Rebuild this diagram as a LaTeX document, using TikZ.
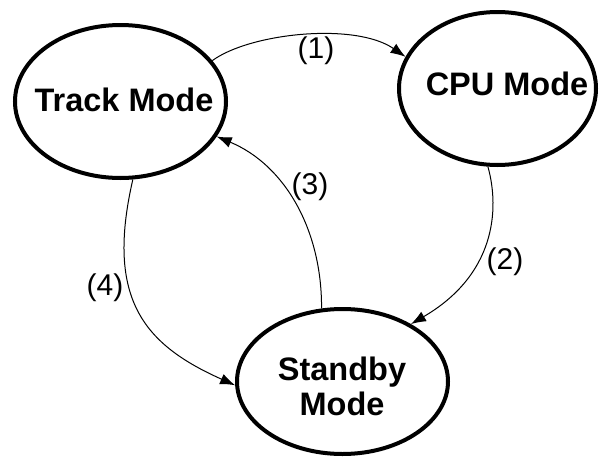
\documentclass[tikz,border=0pt]{standalone}
\usepackage{fontspec}
\setmainfont{Liberation Sans}
\usetikzlibrary{shapes.geometric,arrows.meta}
\begin{document}
\begin{tikzpicture}[x=1pt,y=-1pt,
  state/.style={ellipse, draw, line width=4pt, inner sep=0pt},
  title/.style={font=\fontsize{32.5}{35}\selectfont\bfseries, align=center, inner sep=0pt},
  lbl/.style={font=\fontsize{30}{32}\selectfont, inner sep=0pt},
  conn/.style={line width=1pt, -{Latex[length=15pt,width=11pt]}}]
\useasboundingbox (0,0) rectangle (603,461);
\node[state, minimum width=211pt, minimum height=153pt] (track) at (120.5,101.5) {};
\node[state, minimum width=197pt, minimum height=153pt] (cpu) at (497.5,88.5) {};
\node[state, minimum width=211pt, minimum height=145pt] (standby) at (342.5,381.5) {};
\node[title] (tracktxt) at (124,100) {Track Mode};
\node[title] (cputxt) at (507,84) {CPU Mode};
\node[title] (standbytxt) at (342,386) {Standby\\Mode};
\draw[conn] (track.24) .. controls (250,33) and (355,22) .. (cpu.161);
\draw[conn] (cpu.-97) .. controls (500,210) and (495,275) .. (standby.40);
\draw[conn] (standby.106) .. controls (322,230) and (285,165) .. (track.-20);
\draw[conn] (track.-81) .. controls (105,300) and (145,345) .. (standby.182);
\node[lbl] (l1) at (316,51) {(1)};
\node[lbl] (l2) at (505,262) {(2)};
\node[lbl] (l3) at (310,187) {(3)};
\node[lbl] (l4) at (105,288) {(4)};
\end{tikzpicture}
\end{document}
